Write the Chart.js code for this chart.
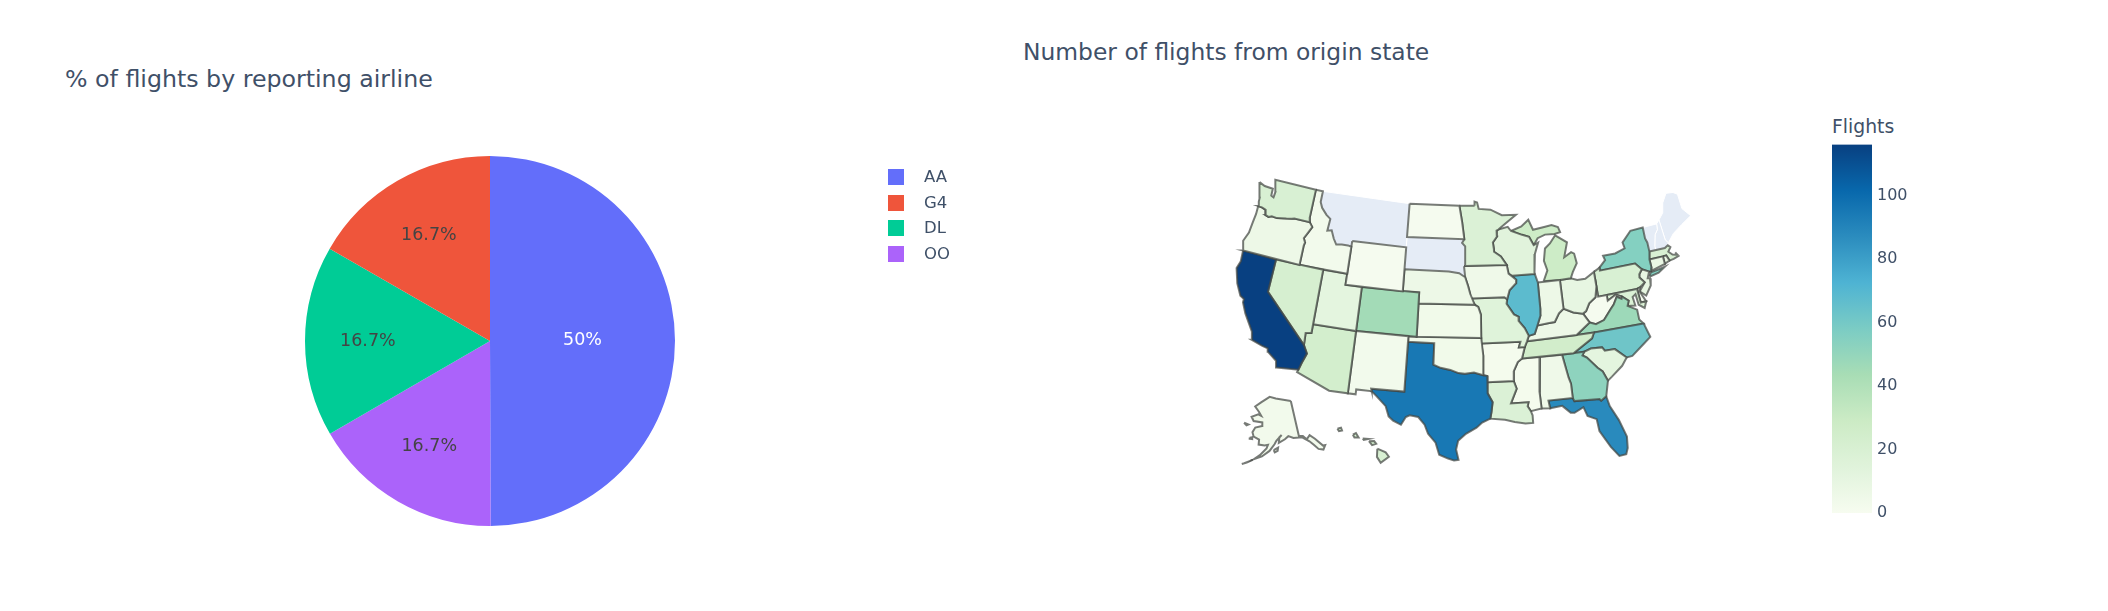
<!DOCTYPE html>
<html>
<head>
<meta charset="utf-8">
<title>Flights dashboard</title>
<script src="https://cdn.jsdelivr.net/npm/chart.js@4"></script>
<style>
  html, body { margin: 0; padding: 0; background: #fff; }
  body { width: 2108px; height: 611px; position: relative; overflow: hidden; font-family: "DejaVu Sans", sans-serif; color: #2a3f5f; filter: blur(0.6px); }
  .box { position: absolute; }
  .title { position: absolute; line-height: 30px; white-space: nowrap; color: #3f5068; }
  #legend { position: absolute; left: 888px; top: 164px; font-size: 16.5px; color: #3f5068; }
  #legend div { height: 25.7px; line-height: 25.7px; position: relative; padding-left: 36px; }
  #legend i { position: absolute; left: 0; top: 5px; width: 16px; height: 16px; }
  #cbTitle { position: absolute; left: 1832px; top: 115px; font-size: 18.8px; line-height: 24px; color: #3f5068; }
</style>
</head>
<body>
<div class="title" style="left:65px;top:64px;font-size:23.7px">% of flights by reporting airline</div>
<div class="title" style="left:1023px;top:37px;font-size:23.4px">Number of flights from origin state</div>
<div class="box" style="left:0;top:0;width:1000px;height:611px"><canvas id="pieChart"></canvas></div>
<div id="legend"></div>
<div class="box" style="left:1200px;top:160px;width:520px;height:320px"><canvas id="mapChart"></canvas></div>
<div id="cbTitle">Flights</div>
<div class="box" style="left:1832px;top:130px;width:90px;height:400px"><canvas id="barChart"></canvas></div>

<script>
// pie data, slices run clockwise from 12 o'clock
const airlines = ["AA", "OO", "DL", "G4"];
const airlineShare = [50, 16.7, 16.7, 16.7];
const airlineColors = ["#636efa", "#ab63fa", "#00cc96", "#ef553b"];
const legendOrder = ["AA", "G4", "DL", "OO"];

// flights per origin state, null = not in the data
const stateCodes = ["WA","OR","CA","NV","ID","MT","WY","UT","AZ","NM","CO","ND","SD","NE","KS","OK","TX","MN","IA","MO","AR","LA","WI","IL","IN","MI","OH","KY","TN","MS","AL","GA","FL","SC","NC","VA","WV","MD","DE","PA","NJ","NY","CT","RI","MA","VT","NH","ME","AK","HI"];
const stateFlights = [20,6,116,22,3,null,1,12,24,3,45,1,null,6,4,4,95,18,5,15,2,18,14,68,6,28,10,6,25,2,5,52,88,12,62,47,1,18,1,20,10,55,8,8,20,null,null,null,3,20];

// GnBu, same as the colorbar
const colorStops = ["rgb(247,252,240)","rgb(224,243,219)","rgb(204,235,197)","rgb(168,221,181)","rgb(123,204,196)","rgb(78,179,211)","rgb(43,140,190)","rgb(8,104,172)","rgb(8,64,129)"];
const flightsMax = 116;
const colorTicks = [0, 20, 40, 60, 80, 100];

// state outlines as lon/lat, simplified by hand
const outlines = {
  WA: [[[-124.73,48.38],[-123.9,48.17],[-122.75,48.14],[-122.7,47.5],[-122.35,47.4],[-122.3,47.9],[-122.5,48.4],[-122.76,49],[-117.03,49],[-117.04,46.42],[-116.92,45.99],[-118.98,46],[-119.3,45.93],[-119.99,45.82],[-121.2,45.65],[-121.9,45.68],[-122.3,45.55],[-122.76,45.65],[-122.9,46.1],[-123.4,46.22],[-123.98,46.25],[-124.07,46.65],[-124.1,47],[-124.4,47.6]]],
  OR: [[[-123.98,46.25],[-123.4,46.22],[-122.9,46.1],[-122.76,45.65],[-122.3,45.55],[-121.9,45.68],[-121.2,45.65],[-119.99,45.82],[-119.3,45.93],[-118.98,46],[-116.92,45.99],[-116.46,45.6],[-116.85,45],[-117.22,44.45],[-117.03,44.2],[-116.95,44.1],[-117.03,43.8],[-117.03,42],[-124.21,42],[-124.55,42.84],[-124.15,43.7],[-124.05,44.7],[-123.95,45.5]]],
  CA: [[[-124.21,42],[-120,42],[-120,39],[-114.63,35],[-114.13,34.3],[-114.5,33.4],[-114.72,32.72],[-117.12,32.53],[-117.3,33.1],[-118.4,33.75],[-118.5,34.03],[-119.2,34.15],[-120.47,34.45],[-120.65,35.15],[-121.9,36.6],[-122.5,37.5],[-122.5,37.8],[-123,38],[-123.75,39],[-124.35,40.3],[-124.1,41]]],
  NV: [[[-120,42],[-114.05,42],[-114.05,36.2],[-114.7,36.1],[-114.63,35],[-120,39]]],
  ID: [[[-117.03,49],[-116.05,49],[-116.05,48],[-115.7,47.5],[-114.95,46.95],[-114.35,46.65],[-114.45,45.55],[-113.9,45.65],[-113.45,44.95],[-113,44.45],[-112.3,44.55],[-111.5,44.55],[-111.05,44.48],[-111.05,42],[-117.03,42],[-117.03,43.8],[-116.95,44.1],[-117.03,44.2],[-117.22,44.45],[-116.85,45],[-116.46,45.6],[-116.92,45.99],[-117.04,46.42]]],
  MT: [[[-116.05,49],[-104.05,49],[-104.05,45],[-111.05,45],[-111.05,44.48],[-111.5,44.55],[-112.3,44.55],[-113,44.45],[-113.45,44.95],[-113.9,45.65],[-114.45,45.55],[-114.35,46.65],[-114.95,46.95],[-115.7,47.5],[-116.05,48]]],
  WY: [[[-111.05,45],[-104.05,45],[-104.05,41],[-111.05,41]]],
  UT: [[[-114.05,42],[-111.05,42],[-111.05,41],[-109.05,41],[-109.05,37],[-114.05,37]]],
  AZ: [[[-114.05,37],[-109.05,37],[-109.05,31.33],[-111.07,31.33],[-114.81,32.5],[-114.72,32.72],[-114.5,33.4],[-114.13,34.3],[-114.63,35],[-114.7,36.1],[-114.05,36.2]]],
  NM: [[[-109.05,37],[-103,37],[-103.04,32],[-106.62,32],[-106.53,31.78],[-108.21,31.78],[-108.21,31.33],[-109.05,31.33]]],
  CO: [[[-109.05,41],[-102.05,41],[-102.05,37],[-109.05,37]]],
  ND: [[[-104.05,49],[-97.23,49],[-96.85,47.5],[-96.56,45.94],[-104.05,45.94]]],
  SD: [[[-104.05,45.94],[-96.56,45.94],[-96.85,45.6],[-96.45,45.3],[-96.45,43.5],[-96.6,43.5],[-96.45,42.49],[-97.2,42.85],[-98.5,43],[-104.05,43]]],
  NE: [[[-104.05,43],[-98.5,43],[-97.2,42.85],[-96.45,42.49],[-96.1,41.7],[-95.85,41],[-95.31,40],[-102.05,40],[-102.05,41],[-104.05,41]]],
  KS: [[[-102.05,40],[-95.31,40],[-94.9,39.8],[-94.6,39.1],[-94.62,37],[-102.05,37]]],
  OK: [[[-103,37],[-94.62,37],[-94.43,35.4],[-94.48,33.64],[-95.5,33.9],[-96.5,33.8],[-97.2,33.85],[-98.1,34.13],[-99.2,34.3],[-100,34.56],[-100,36.5],[-103,36.5]]],
  TX: [[[-106.62,32],[-103.04,32],[-103,36.5],[-100,36.5],[-100,34.56],[-99.2,34.3],[-98.1,34.13],[-97.2,33.85],[-96.5,33.8],[-95.5,33.9],[-94.48,33.64],[-94.04,33.55],[-94.04,33],[-94.04,31.99],[-93.55,31.18],[-93.7,30.3],[-93.84,29.69],[-94.7,29.35],[-95.3,28.9],[-96.4,28.35],[-97.2,27.7],[-97.4,26.9],[-97.15,25.96],[-97.6,25.9],[-98.2,26.07],[-99.1,26.4],[-99.5,27.5],[-100.3,28.28],[-100.7,29.1],[-101.4,29.77],[-102.3,29.88],[-102.7,29.7],[-103.15,28.97],[-104,29.3],[-104.5,29.65],[-104.9,30.55],[-106,31.4],[-106.53,31.78]]],
  MN: [[[-97.23,49],[-95.15,49],[-95.15,49.38],[-94.8,49.3],[-94.6,48.7],[-93,48.6],[-91.5,48.05],[-89.6,48],[-91.2,47.2],[-92.05,46.75],[-92.3,46.66],[-92.3,46.1],[-92.85,45.6],[-92.75,45],[-92.75,44.75],[-91.9,44.3],[-91.22,43.5],[-96.45,43.5],[-96.45,45.3],[-96.85,45.6],[-96.56,45.94],[-96.85,47.5]]],
  IA: [[[-96.6,43.5],[-91.22,43.5],[-91.05,42.7],[-90.15,42.1],[-90.2,41.8],[-91.05,41.2],[-91.4,40.4],[-91.72,40.6],[-95.77,40.58],[-95.85,41],[-96.1,41.7],[-96.45,42.49]]],
  MO: [[[-95.77,40.58],[-91.72,40.6],[-91.4,40.4],[-91.5,40],[-90.7,39],[-90.15,38.75],[-90.2,38.4],[-89.55,37.7],[-89.15,36.98],[-89.4,36.5],[-89.7,36],[-90.37,36],[-90.15,36.5],[-94.62,36.5],[-94.62,37],[-94.6,39.1],[-94.9,39.8],[-95.31,40]]],
  AR: [[[-94.62,36.5],[-90.15,36.5],[-90.37,36],[-89.7,36],[-90.1,35],[-90.6,34.7],[-91.1,33.9],[-91.17,33],[-94.04,33],[-94.04,33.55],[-94.48,33.64],[-94.43,35.4]]],
  LA: [[[-94.04,33],[-91.17,33],[-90.9,32.3],[-91.6,31],[-89.73,31],[-89.85,30.65],[-89.55,30.18],[-89.4,29.8],[-89.4,29.1],[-90.2,29.1],[-91.3,29.3],[-92.3,29.55],[-93.84,29.69],[-93.7,30.3],[-93.55,31.18],[-94.04,31.99]]],
  WI: [[[-92.05,46.75],[-90.8,46.95],[-90.4,46.55],[-89,46.13],[-88.1,45.9],[-87.6,45.1],[-87,45.3],[-87.55,44.3],[-87.75,43.5],[-87.8,42.5],[-90.65,42.5],[-91.05,42.7],[-91.22,43.5],[-91.9,44.3],[-92.75,44.75],[-92.75,45],[-92.85,45.6],[-92.3,46.1],[-92.3,46.66]]],
  IL: [[[-90.65,42.5],[-87.8,42.5],[-87.53,41.7],[-87.53,39.35],[-87.6,38.7],[-88.05,37.85],[-88.45,37.1],[-89.15,36.98],[-89.55,37.7],[-90.2,38.4],[-90.15,38.75],[-90.7,39],[-91.5,40],[-91.4,40.4],[-91.05,41.2],[-90.2,41.8],[-90.15,42.1]]],
  IN: [[[-87.53,41.7],[-87,41.7],[-84.8,41.7],[-84.8,39.1],[-85.4,38.73],[-86,38],[-86.8,37.95],[-88.05,37.85],[-87.6,38.7],[-87.53,39.35]]],
  MI: [[[-86.8,41.76],[-84.8,41.7],[-83.45,41.73],[-83.1,42.25],[-82.45,43],[-82.6,43.9],[-82.95,44.07],[-83.9,43.7],[-83.3,45],[-84.7,45.78],[-85.5,45.1],[-86.2,44.7],[-86.5,43.6],[-86.2,42.7]],
       [[-90.4,46.55],[-89,46.9],[-88,47.45],[-87.5,46.5],[-86,46.65],[-85,46.75],[-84.2,46.5],[-84,46],[-84.75,45.9],[-86,45.95],[-87,45.7],[-87.6,45.1],[-88.1,45.9],[-89,46.13]]],
  OH: [[[-84.8,41.7],[-83.45,41.73],[-82.7,41.5],[-81.7,41.5],[-80.52,41.98],[-80.52,40.64],[-80.85,39.7],[-81.7,39.25],[-82.2,38.6],[-82.6,38.42],[-83.7,38.65],[-84.8,39.1]]],
  KY: [[[-89.4,36.5],[-89.15,36.98],[-88.45,37.1],[-88.05,37.85],[-86.8,37.95],[-86,38],[-85.4,38.73],[-84.8,39.1],[-83.7,38.65],[-82.6,38.42],[-82,37.55],[-83.68,36.6]]],
  TN: [[[-90.1,35],[-89.7,36],[-89.4,36.5],[-83.68,36.6],[-81.68,36.59],[-82,36.1],[-84.3,35]]],
  MS: [[[-90.1,35],[-88.2,35],[-88.1,34.9],[-88.47,31.9],[-88.4,30.35],[-89.55,30.18],[-89.85,30.65],[-89.73,31],[-91.6,31],[-90.9,32.3],[-91.17,33],[-91.1,33.9],[-90.6,34.7]]],
  AL: [[[-88.2,35],[-85.6,35],[-85.18,32.87],[-85,32.3],[-85,31],[-87.6,31],[-87.5,30.3],[-88.4,30.35],[-88.47,31.9],[-88.1,34.9]]],
  GA: [[[-85.6,35],[-83.1,35],[-83.35,34.7],[-82.9,34.45],[-81.9,33.4],[-81.4,33],[-81,32.1],[-81.45,30.72],[-82.05,30.4],[-82.2,30.57],[-84.86,30.7],[-85,31],[-85,32.3],[-85.18,32.87]]],
  FL: [[[-87.6,31],[-85,31],[-84.86,30.7],[-82.2,30.57],[-82.05,30.4],[-81.45,30.72],[-81.25,29.8],[-80.55,28.4],[-80.03,26.8],[-80.15,25.75],[-80.4,25.2],[-81.1,25.15],[-81.8,26.1],[-82.7,27.7],[-82.8,28.8],[-83.7,29.2],[-84,30.05],[-85,29.65],[-85.4,29.7],[-86.2,30.4],[-87.5,30.3]]],
  SC: [[[-83.35,34.7],[-83.1,35],[-82.3,35.2],[-81.05,35.15],[-80.8,34.82],[-79.67,34.8],[-78.55,33.86],[-79.2,33.2],[-80.5,32.4],[-81,32.1],[-81.4,33],[-81.9,33.4],[-82.9,34.45]]],
  NC: [[[-84.3,35],[-82,36.1],[-81.68,36.59],[-75.9,36.55],[-75.5,35.25],[-76.5,34.7],[-77.9,33.9],[-78.55,33.86],[-79.67,34.8],[-80.8,34.82],[-81.05,35.15],[-82.3,35.2],[-83.1,35]]],
  VA: [[[-83.68,36.6],[-82,37.55],[-81.3,37.3],[-80.3,37.55],[-79.3,38.42],[-78.87,38.76],[-78.35,39.4],[-77.83,39.13],[-77.72,39.32],[-77.05,38.85],[-77.3,38.4],[-76.3,37.9],[-76.3,37],[-75.9,36.55],[-81.68,36.59]]],
  WV: [[[-82.6,38.42],[-82.2,38.6],[-81.7,39.25],[-80.85,39.7],[-80.52,40.64],[-80.52,39.72],[-79.48,39.72],[-79.48,39.2],[-78.4,39.62],[-77.72,39.32],[-77.83,39.13],[-78.35,39.4],[-78.87,38.76],[-79.3,38.42],[-80.3,37.55],[-81.3,37.3],[-82,37.55]]],
  MD: [[[-79.48,39.72],[-75.79,39.72],[-75.7,38.46],[-75.05,38.45],[-75.4,37.9],[-76,38.3],[-76.1,39.3],[-76.5,39.1],[-76.4,38.3],[-77.3,38.4],[-77.05,38.85],[-77.72,39.32],[-78.4,39.62],[-79.48,39.2]]],
  DE: [[[-75.79,39.72],[-75.42,39.8],[-75.55,39.45],[-75.05,38.45],[-75.7,38.46]]],
  PA: [[[-80.52,41.98],[-79.76,42.27],[-79.76,42],[-75.35,42],[-74.7,41.36],[-75.13,40.97],[-75.2,40.68],[-74.72,40.15],[-75.42,39.8],[-75.79,39.72],[-80.52,39.72]]],
  NJ: [[[-74.7,41.36],[-73.9,41],[-74.25,40.45],[-73.98,40.4],[-74.1,39.75],[-74.9,38.95],[-75.55,39.45],[-74.72,40.15],[-75.2,40.68],[-75.13,40.97]]],
  NY: [[[-79.76,42],[-79.76,42.27],[-78.9,42.85],[-79.05,43.27],[-77.5,43.27],[-76.2,43.55],[-76.3,44.1],[-75,44.98],[-73.35,45.01],[-73.4,44],[-73.25,43.6],[-73.27,42.75],[-73.5,42.05],[-73.5,41.3],[-73.65,41],[-73.9,41],[-74.7,41.36],[-75.35,42]],
       [[-74,40.6],[-73.7,40.9],[-72.5,41],[-71.9,41.07],[-72.8,40.7],[-73.9,40.55]]],
  CT: [[[-73.5,42.05],[-71.8,42.02],[-71.8,41.32],[-73.65,41],[-73.5,41.3]]],
  RI: [[[-71.8,42.02],[-71.38,42.02],[-71.15,41.5],[-71.8,41.32]]],
  MA: [[[-73.27,42.75],[-71.3,42.7],[-70.85,42.87],[-70.6,42.65],[-71,42.3],[-70.6,41.95],[-70,41.8],[-70.2,42.07],[-69.95,41.67],[-70.6,41.55],[-71.15,41.5],[-71.38,42.02],[-71.8,42.02],[-73.5,42.05]]],
  VT: [[[-73.35,45.01],[-71.5,45.01],[-71.6,44.5],[-72.05,44.1],[-72.45,43.1],[-72.46,42.73],[-73.27,42.75],[-73.25,43.6],[-73.4,44]]],
  NH: [[[-71.5,45.01],[-71.08,45.3],[-70.98,43.4],[-70.7,43.07],[-70.85,42.87],[-71.3,42.7],[-72.46,42.73],[-72.45,43.1],[-72.05,44.1],[-71.6,44.5]]],
  ME: [[[-71.08,45.3],[-70.4,45.8],[-70,46.7],[-69.23,47.46],[-68.3,47.35],[-67.8,47.07],[-67.8,45.7],[-67,44.85],[-68.5,44.3],[-69.8,43.75],[-70.7,43.07],[-70.98,43.4]]],
  AK: [[[-141,69.6],[-141,60.3],[-139,60],[-137.5,58.9],[-135.5,59.7],[-133.5,58.4],[-131,56],[-130,55.9],[-131.5,55],[-133.5,55.6],[-135,57],[-136.5,58.2],[-139.5,59.7],[-144,60],[-146.5,60.7],[-148.5,60],[-151.8,59.2],[-151.3,60.7],[-150,61.2],[-153,59.8],[-154,58.9],[-156.5,57.2],[-160,55.7],[-163.5,54.8],[-161,56],[-158,57.8],[-157.3,58.8],[-159,58.6],[-162,58.7],[-162,60],[-165,60.6],[-166,61.7],[-164.8,63],[-161,63.6],[-161,64.5],[-166.3,64.6],[-168,65.6],[-164,66.5],[-162,66.2],[-163.8,67.2],[-166.8,68.4],[-163,69.7],[-156.7,71.3],[-152,70.8]],
       [[-164,54.6],[-167.5,53.4],[-168.5,53.1],[-166.5,53.7]],
       [[-154.5,57.4],[-152.3,58],[-152.6,57.2],[-154,56.8]],
       [[-167,60.2],[-165.7,60.4],[-165.6,59.9],[-166.8,59.9]],
       [[-171.7,63.7],[-169,63.5],[-170,63.2]]],
  HI: [[[-155.9,20.25],[-155.1,19.9],[-154.8,19.5],[-155.6,18.95],[-155.95,19.5]],
       [[-156.7,20.95],[-156.2,20.95],[-156,20.7],[-156.4,20.58]],
       [[-157.3,21.2],[-156.75,21.15],[-157.2,21.07]],
       [[-158.25,21.55],[-157.95,21.7],[-157.7,21.3],[-158.1,21.3]],
       [[-159.75,22.1],[-159.4,22.2],[-159.3,21.95],[-159.6,21.88]]],
};

const rad = Math.PI / 180;

// conic equal area, returns x / y with y up
function conic(lon, lat, lon0, lat0, p1, p2) {
  const n = (Math.sin(p1 * rad) + Math.sin(p2 * rad)) / 2;
  const c = Math.cos(p1 * rad) ** 2 + 2 * n * Math.sin(p1 * rad);
  const rho = (la) => Math.sqrt(c - 2 * n * Math.sin(la * rad)) / n;
  const theta = n * (lon - lon0) * rad;
  return { x: rho(lat) * Math.sin(theta), y: rho(lat0) - rho(lat) * Math.cos(theta) };
}

// albers usa: lower 48 plus the two insets
function project(code, lon, lat) {
  if (code === "AK") {
    const p = conic(lon, lat, -156, 58.5, 55, 65);
    return { x: -0.307 + 0.35 * p.x, y: -0.201 + 0.35 * p.y };
  }
  if (code === "HI") {
    const p = conic(lon, lat, -160, 19.9, 8, 18);
    return { x: -0.205 + p.x, y: -0.212 + p.y };
  }
  return conic(lon, lat, -96.6, 38.7, 29.5, 45.5);
}

function flightsColor(v) {
  if (v === null) return "#e5ecf6";
  const t = Math.min(v / flightsMax, 1) * (colorStops.length - 1);
  const i = Math.min(Math.floor(t), colorStops.length - 2);
  const a = colorStops[i].match(/\d+/g).map(Number);
  const b = colorStops[i + 1].match(/\d+/g).map(Number);
  const mix = a.map((c, j) => Math.round(c + (b[j] - c) * (t - i)));
  return `rgb(${mix.join(",")})`;
}

function renderPie() {
  const labelsPlugin = {
    id: "sliceLabels",
    afterDatasetsDraw(chart) {
      const { ctx } = chart;
      const arcs = chart.getDatasetMeta(0).data;
      ctx.save();
      ctx.font = "17.5px 'DejaVu Sans'";
      ctx.textAlign = "center";
      ctx.textBaseline = "middle";
      arcs.forEach((arc, i) => {
        const big = airlineShare[i] >= 50;
        const mid = (arc.startAngle + arc.endAngle) / 2;
        const r = arc.outerRadius * (big ? 0.5 : 0.66);
        ctx.fillStyle = big ? "#fff" : "#444";
        ctx.fillText(big ? "50%" : airlineShare[i] + "%", arc.x + r * Math.cos(mid), arc.y + r * Math.sin(mid));
      });
      ctx.restore();
    },
  };

  new Chart(document.getElementById("pieChart"), {
    type: "pie",
    data: {
      labels: airlines,
      datasets: [{ data: airlineShare, backgroundColor: airlineColors, borderWidth: 0 }],
    },
    options: {
      responsive: true,
      maintainAspectRatio: false,
      animation: false,
      layout: { padding: { left: 305, right: 325, top: 156, bottom: 85 } },
      plugins: { legend: { display: false }, tooltip: { enabled: false } },
    },
    plugins: [labelsPlugin],
  });

  const legend = document.getElementById("legend");
  legendOrder.forEach((name) => {
    const row = document.createElement("div");
    const swatch = document.createElement("i");
    swatch.style.background = airlineColors[airlines.indexOf(name)];
    row.appendChild(swatch);
    row.appendChild(document.createTextNode(name));
    legend.appendChild(row);
  });
}

function renderMap() {
  const datasets = [];
  stateCodes.forEach((code, i) => {
    const missing = stateFlights[i] === null;
    outlines[code].forEach((ring) => {
      const pts = ring.concat([ring[0]]).map(([lon, lat]) => project(code, lon, lat));
      datasets.push({
        label: code,
        data: pts,
        showLine: true,
        fill: "shape",
        tension: 0,
        pointRadius: 0,
        clip: false,
        backgroundColor: flightsColor(stateFlights[i]),
        borderColor: missing ? "#ffffff" : "rgba(68,72,68,0.72)",
        borderWidth: missing ? 1 : 2,
        order: missing ? 2 : 1,
      });
    });
  });

  new Chart(document.getElementById("mapChart"), {
    type: "scatter",
    data: { datasets },
    options: {
      responsive: true,
      maintainAspectRatio: false,
      animation: false,
      events: [],
      layout: { padding: 0 },
      plugins: { legend: { display: false }, tooltip: { enabled: false } },
      scales: {
        x: { type: "linear", display: false, min: -0.419, max: 0.4063 },
        y: { type: "linear", display: false, min: -0.2551, max: 0.2529 },
      },
    },
  });
}

function renderColorbar() {
  new Chart(document.getElementById("barChart"), {
    type: "bar",
    data: {
      labels: ["Flights"],
      datasets: [{
        data: [flightsMax],
        barPercentage: 1,
        categoryPercentage: 1,
        borderWidth: 0,
        backgroundColor(c) {
          const { chartArea, scales } = c.chart;
          if (!chartArea) return colorStops[0];
          const g = c.chart.ctx.createLinearGradient(0, scales.y.getPixelForValue(0), 0, scales.y.getPixelForValue(flightsMax));
          colorStops.forEach((col, i) => g.addColorStop(i / (colorStops.length - 1), col));
          return g;
        },
      }],
    },
    options: {
      responsive: true,
      maintainAspectRatio: false,
      animation: false,
      layout: { padding: { top: 14, bottom: 17, left: 0, right: 0 } },
      plugins: { legend: { display: false }, tooltip: { enabled: false } },
      scales: {
        x: { display: false },
        y: {
          position: "right",
          min: 0,
          max: flightsMax,
          afterBuildTicks(axis) { axis.ticks = colorTicks.map((value) => ({ value })); },
          afterFit(axis) { axis.width = 50; },
          grid: { display: false, drawTicks: false },
          border: { display: false },
          ticks: { color: "#3f5068", font: { family: "'DejaVu Sans'", size: 16 }, padding: 5 },
        },
      },
    },
  });
}

renderPie();
renderMap();
renderColorbar();
</script>
</body>
</html>
